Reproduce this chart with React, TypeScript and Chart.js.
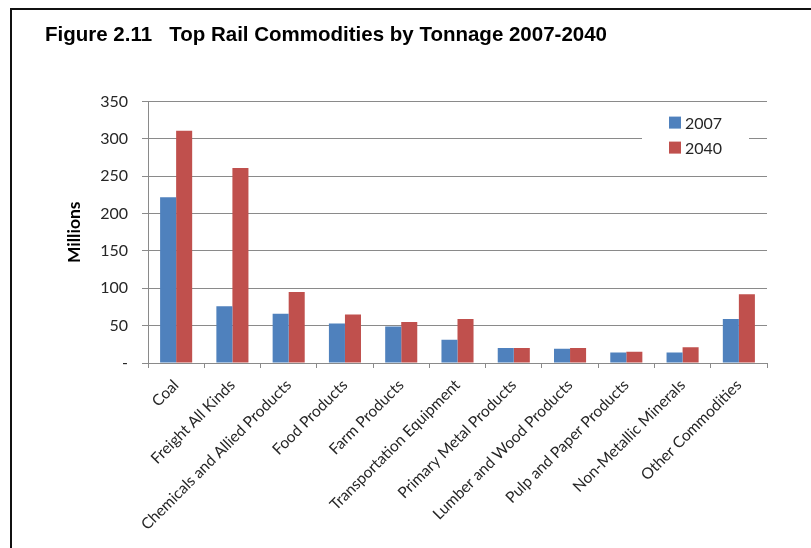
import React, { useEffect, useRef } from "react";
import { Chart, registerables } from "chart.js";

Chart.register(...registerables);

const categories = [
  "Coal",
  "Freight All Kinds",
  "Chemicals and Allied Products",
  "Food Products",
  "Farm Products",
  "Transportation Equipment",
  "Primary Metal Products",
  "Lumber and Wood Products",
  "Pulp and Paper Products",
  "Non-Metallic Minerals",
  "Other Commodities",
];
const values2007 = [222, 76, 66, 53, 49, 31, 20, 19, 14, 14, 59];
const values2040 = [311, 261, 95, 65, 55, 59, 20, 20, 15, 21, 92];
const seriesNames = ["2007", "2040"];
const yTickValues = [0, 50, 100, 150, 200, 250, 300, 350];
const yTickLabels = ["-", "50", "100", "150", "200", "250", "300", "350"];
const titleText = "Figure 2.11   Top Rail Commodities by Tonnage 2007-2040";
const yAxisTitle = "Millions";

const BLUE = "#4F81BD";
const RED = "#C0504D";
const GRID = "#8a8a8a";
const TEXT = "#262626";
const FONT = "Lato, 'Open Sans', sans-serif";

const insideLegend = {
  id: "insideLegend",
  afterDatasetsDraw(chart: any) {
    const { ctx, chartArea } = chart;
    const r = chartArea.right;
    const t = chartArea.top;
    ctx.save();
    ctx.fillStyle = "#ffffff";
    ctx.fillRect(r - 125, t + 8, 107, 50);
    ctx.font = `16px ${FONT}`;
    ctx.textAlign = "left";
    ctx.textBaseline = "middle";
    chart.data.datasets.forEach((ds: any, i: number) => {
      const cy = t + 21 + i * 25;
      ctx.fillStyle = ds.backgroundColor;
      ctx.fillRect(r - 98, cy - 6, 12, 12);
      ctx.fillStyle = TEXT;
      ctx.fillText(ds.label, r - 82, cy + 1);
    });
    ctx.restore();
  },
};

export default function App() {
  const canvasRef = useRef<HTMLCanvasElement | null>(null);

  useEffect(() => {
    const canvas = canvasRef.current;
    if (!canvas) return;
    const chart = new Chart(canvas, {
      type: "bar",
      data: {
        labels: categories,
        datasets: [
          {
            label: seriesNames[0],
            data: values2007,
            backgroundColor: BLUE,
            categoryPercentage: 0.57,
            barPercentage: 1.0,
          },
          {
            label: seriesNames[1],
            data: values2040,
            backgroundColor: RED,
            categoryPercentage: 0.57,
            barPercentage: 1.0,
          },
        ],
      },
      options: {
        animation: false,
        responsive: false,
        maintainAspectRatio: false,
        layout: { padding: { left: 45, right: 44, top: 0, bottom: 0 } },
        plugins: {
          legend: { display: false },
          tooltip: { enabled: false },
          title: {
            display: true,
            text: titleText,
            align: "start",
            color: "#000000",
            font: {
              family: "'Liberation Sans', Arial, sans-serif",
              size: 20.5,
              weight: "bold",
            },
            padding: { top: 23, bottom: 54 },
          },
        },
        scales: {
          x: {
            grid: {
              drawOnChartArea: false,
              drawTicks: true,
              tickLength: 5,
              color: GRID,
            },
            border: { color: GRID, width: 1 },
            ticks: {
              minRotation: 45,
              maxRotation: 45,
              autoSkip: false,
              padding: 8,
              color: TEXT,
              font: { family: FONT, size: 15.5 },
            },
            afterFit(scale: any) {
              scale.height = 185;
            },
          },
          y: {
            min: 0,
            max: 350,
            afterBuildTicks(scale: any) {
              scale.ticks = yTickValues.map((v) => ({ value: v }));
            },
            ticks: {
              padding: 14,
              color: TEXT,
              font: { family: FONT, size: 16 },
              callback: (value: any) => {
                const i = yTickValues.indexOf(Number(value));
                return i >= 0 ? yTickLabels[i] : "";
              },
            },
            grid: { color: GRID, tickLength: 6, lineWidth: 1 },
            border: { color: GRID, width: 1 },
            title: {
              display: true,
              text: yAxisTitle,
              color: "#000000",
              font: { family: FONT, size: 17.5, weight: "bold" },
              padding: { top: 19, bottom: 0 },
            },
            afterFit(scale: any) {
              scale.width = 103;
            },
          },
        },
      },
      plugins: [insideLegend],
    });
    return () => chart.destroy();
  }, []);

  return (
    <div
      style={{
        position: "fixed",
        left: 0,
        top: 0,
        width: 811,
        height: 548,
        background: "#ffffff",
        overflow: "hidden",
      }}
    >
      <canvas ref={canvasRef} width={811} height={548} style={{ position: "absolute", left: 0, top: 0, width: 811, height: 548 }} />
      <div
        style={{
          position: "absolute",
          left: 10,
          top: 8,
          width: 900,
          height: 600,
          borderLeft: "2px solid #111",
          borderTop: "2px solid #111",
          pointerEvents: "none",
        }}
      />
    </div>
  );
}
